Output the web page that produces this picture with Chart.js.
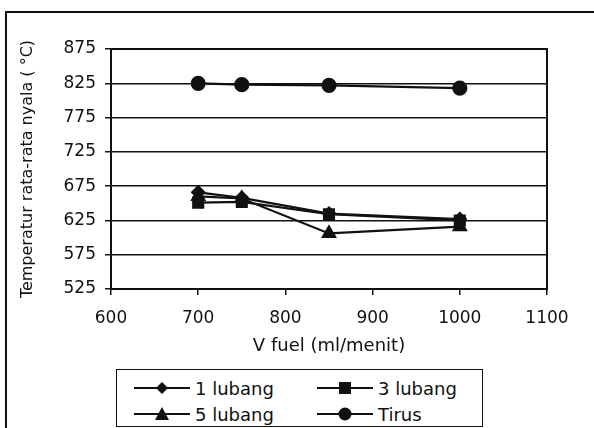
<!DOCTYPE html>
<html>
<head>
<meta charset="utf-8">
<script src="https://cdn.jsdelivr.net/npm/chart.js@4"></script>
<style>
  html, body { margin: 0; padding: 0; background: #fff; }
  #wrap { position: relative; width: 594px; height: 428px; overflow: hidden; font-family: "DejaVu Sans", sans-serif; }
  #frame { position: absolute; left: 5px; top: 11px; width: 600px; height: 430px; border-left: 2px solid #111; border-top: 2px solid #111; box-sizing: border-box; }
  canvas { position: absolute; left: 0; top: 0; }
  #legend { position: absolute; left: 116px; top: 369px; width: 367px; height: 58px; border: 1.5px solid #111; box-sizing: border-box; background: #fff; }
  .item { position: absolute; display: flex; align-items: center; font-size: 18px; color: #111; height: 22px; }
  .item svg { margin-right: 5px; }
</style>
</head>
<body>
<div id="wrap">
  <div id="frame"></div>
  <canvas id="c" width="594" height="428"></canvas>
  <div id="legend"></div>
</div>
<script>
const xValues = [700, 750, 850, 1000];
const lubang1 = [666, 658, 635, 627];
const lubang3 = [651, 652, 634, 625];
const lubang5 = [660, 657, 606, 616];
const tirus = [825, 823, 822, 818];
const seriesNames = ["1 lubang", "3 lubang", "5 lubang", "Tirus"];
const xTicks = [600, 700, 800, 900, 1000, 1100];
const yTicks = [525, 575, 625, 675, 725, 775, 825, 875];

const styles = [
  { pointStyle: 'rectRot', radius: 6 },
  { pointStyle: 'rect', radius: 7 },
  { pointStyle: 'triangle', radius: 7 },
  { pointStyle: 'circle', radius: 6.5 }
];
const allData = [lubang1, lubang3, lubang5, tirus];

const datasets = allData.map((arr, i) => ({
  label: seriesNames[i],
  data: xValues.map((x, j) => ({ x: x, y: arr[j] })),
  borderColor: '#111',
  backgroundColor: '#111',
  borderWidth: 2.2,
  pointStyle: styles[i].pointStyle,
  pointRadius: styles[i].radius,
  pointBackgroundColor: '#111',
  pointBorderColor: '#111',
  tension: 0
}));

const frameBox = {
  id: 'frameBox',
  afterDraw(chart) {
    const a = chart.chartArea, ctx = chart.ctx;
    ctx.save();
    ctx.strokeStyle = '#111';
    ctx.lineWidth = 2;
    ctx.strokeRect(a.left, a.top, a.right - a.left, a.bottom - a.top);
    ctx.restore();
  }
};

const fam = '"DejaVu Sans", sans-serif';
const font = { family: fam, size: 17 };

new Chart(document.getElementById('c'), {
  type: 'line',
  data: { datasets },
  plugins: [frameBox],
  options: {
    responsive: false,
    animation: false,
    layout: { padding: { left: 18, right: 47, top: 49, bottom: 71 } },
    plugins: { legend: { display: false }, tooltip: { enabled: false } },
    scales: {
      x: {
        type: 'linear',
        min: xTicks[0], max: xTicks[xTicks.length - 1],
        afterBuildTicks(s) { s.ticks = xTicks.map(v => ({ value: v })); },
        afterFit(s) { s.height = 68; },
        grid: { display: true, drawOnChartArea: false, color: '#111', lineWidth: 1.5, tickLength: 6 },
        border: { color: '#111', width: 2 },
        ticks: { color: '#111', font: font, padding: 13, maxRotation: 0, callback: v => String(v) },
        title: { display: true, text: 'V fuel (ml/menit)', color: '#111', font: { family: fam, size: 18 }, padding: { top: 0, bottom: 0 } }
      },
      y: {
        type: 'linear',
        min: yTicks[0], max: yTicks[yTicks.length - 1],
        afterBuildTicks(s) { s.ticks = yTicks.map(v => ({ value: v })); },
        afterFit(s) { s.width = 93; },
        grid: { color: '#111', lineWidth: 1.5, tickLength: 6 },
        border: { color: '#111', width: 2 },
        ticks: { color: '#111', font: font, padding: 9, callback: v => String(v) },
        title: { display: true, text: 'Temperatur rata-rata nyala ( °C)', color: '#111', font: { family: fam, size: 16 }, padding: { top: 0, bottom: 2 } }
      }
    }
  }
});

// legend
const legend = document.getElementById('legend');
const positions = [[17, 7], [200, 7], [17, 33], [200, 33]];
function symbol(style) {
  let m = '';
  if (style === 'rectRot') m = '<polygon points="28,5 34,11 28,17 22,11" fill="#111"/>';
  if (style === 'rect') m = '<rect x="22" y="5" width="12" height="12" fill="#111"/>';
  if (style === 'triangle') m = '<polygon points="28,4 35,17 21,17" fill="#111"/>';
  if (style === 'circle') m = '<circle cx="28" cy="11" r="6.5" fill="#111"/>';
  return '<svg width="56" height="22"><line x1="0" y1="11" x2="56" y2="11" stroke="#111" stroke-width="2"/>' + m + '</svg>';
}
seriesNames.forEach((name, i) => {
  const d = document.createElement('div');
  d.className = 'item';
  d.style.left = positions[i][0] + 'px';
  d.style.top = positions[i][1] + 'px';
  d.innerHTML = symbol(styles[i].pointStyle) + '<span>' + name + '</span>';
  legend.appendChild(d);
});
</script>
</body>
</html>
